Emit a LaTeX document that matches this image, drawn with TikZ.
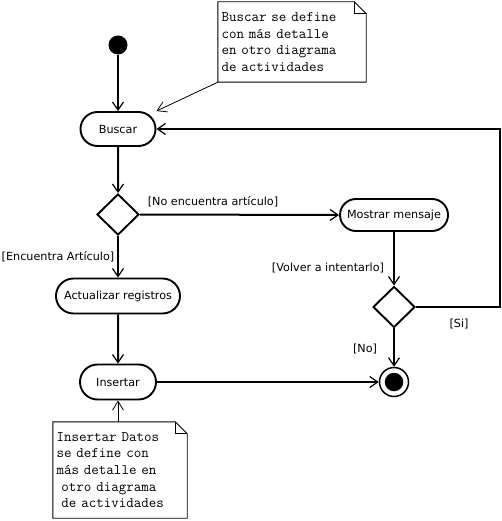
\documentclass[tikz,border=0pt]{standalone}
\usepackage{fontspec}
\setmainfont{DejaVu Sans}
\usetikzlibrary{arrows.meta,calc,positioning,shapes.geometric,shapes.misc}
\tikzset{
  act/.style={rounded rectangle, draw, line width=1.9pt, minimum height=34pt, inner sep=2pt,
    font=\fontsize{11.2pt}{13pt}\selectfont},
  decision/.style={diamond, draw, line width=1.9pt, minimum width=42pt, minimum height=41pt, inner sep=0pt},
  startnode/.style={circle, fill=black, minimum size=19pt, inner sep=0pt},
  endring/.style={circle, draw, line width=1.5pt, minimum size=29pt, inner sep=0pt},
  enddot/.style={circle, fill=black, minimum size=18.5pt, inner sep=0pt},
  guard/.style={inner sep=0pt, font=\fontsize{11.2pt}{13pt}\selectfont},
  flow/.style={line width=2pt, -{Straight Barb[length=8pt,width=11pt,line width=1.2pt]}},
  note/.style={inner xsep=3.5pt, inner ysep=0pt, align=left,
    font=\ttfamily\fontsize{14.6pt}{16.7pt}\selectfont},
  noteline/.style={line width=0.9pt},
  anchorline/.style={line width=0.8pt, -{Straight Barb[length=9pt,width=11pt,line width=0.8pt]}}
}
% outline with folded corner round a note node
\newcommand{\NoteFrame}[1]{%
  \draw[noteline] (#1.north west) -- ($(#1.north east)+(-12,0)$) -- ($(#1.north east)+(0,12)$)
    -- (#1.south east) -- (#1.south west) -- cycle;
  \draw[noteline] ($(#1.north east)+(-12,0)$) -- ++(0,12) -- ++(12,0);
}

\begin{document}
\begin{tikzpicture}[x=1pt,y=-1pt]
  \useasboundingbox (0,0) rectangle (502,521);

  % actions
  \node[startnode] (start) at (118,45) {};
  \node[act, minimum width=79pt] (buscar) at (118,129) {Buscar};
  \node[decision] (dec1) at (118,214.5) {};
  \node[act, minimum width=112pt, minimum height=32pt] (mostrar) at (394,215) {Mostrar mensaje};
  \node[act, minimum width=128pt, minimum height=35pt] (actualizar) at (118,296) {Actualizar registros};
  \node[act, minimum width=80pt, minimum height=35pt] (insertar) at (118,382) {Insertar};
  \node[decision] (dec2) at (394,307) {};
  \node[endring] (fin) at (394,382) {};
  \node[enddot] (findot) at (fin) {};

  % notes
  \node[note, minimum width=148pt, minimum height=80pt, text width=141pt] (note1) at (292,42)
    {Buscar se define\\con más detalle\\en otro diagrama\\de actividades};
  \NoteFrame{note1}
  \node[note, minimum width=134pt, minimum height=96pt, text width=127pt] (note2) at (120,470)
    {Insertar Datos\\se define con\\más detalle en\\~otro diagrama\\~de actividades};
  \NoteFrame{note2}

  % flows
  \draw[flow] (start) -- (buscar);
  \draw[flow] (buscar) -- (dec1);
  \draw[flow] (dec1.east) -- (mostrar.west);
  \draw[flow] (dec1.south) -- (actualizar.north);
  \draw[flow] (actualizar) -- (insertar);
  \draw[flow] (insertar.east) -- (fin.west);
  \draw[flow] (mostrar.south) -- (dec2.north);
  \draw[flow] (dec2.south) -- (fin.north);
  \draw[flow] (dec2.east) -- ++(84,0) |- (buscar.east);

  % note anchors
  \draw[anchorline] (note1.south west) -- (buscar.east |- buscar.north);
  \draw[anchorline] (note2.north -| insertar.south) -- (insertar.south);

  % guards
  \node[guard] (gNo1) at (213,202) {[No encuentra artículo]};
  \node[guard] (gSi1) at (58,257) {[Encuentra Artículo]};
  \node[guard] (gVolver) at (328,268) {[Volver a intentarlo]};
  \node[guard] (gSi2) at (459,324) {[Si]};
  \node[guard] (gNo2) at (365,349) {[No]};
\end{tikzpicture}
\end{document}
